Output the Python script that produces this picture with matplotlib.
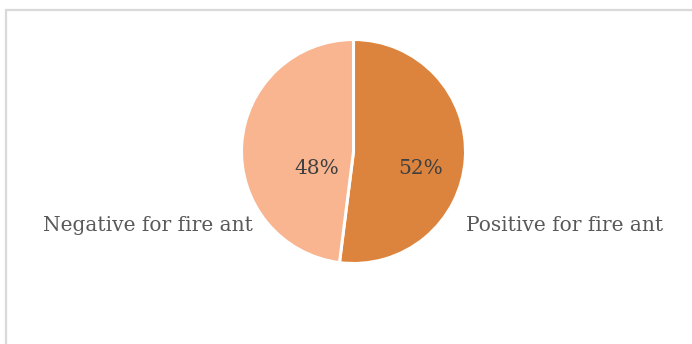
import matplotlib
matplotlib.use("Agg")
import matplotlib.pyplot as plt
from matplotlib.patches import Rectangle

categories = ["Positive for fire ant", "Negative for fire ant"]
values = [52, 48]
pct_labels = ["52%", "48%"]
colors = ["#DC843E", "#F8B58F"]

W, H, DPI = 692, 344, 100
fig = plt.figure(figsize=(W / DPI, H / DPI), dpi=DPI)
fig.patch.set_facecolor("white")

# chart border
fig.patches.append(Rectangle((6 / W, -0.1), 1.2, (H - 10) / H + 0.1,
                             transform=fig.transFigure, fill=False,
                             edgecolor="#D9D9D9", linewidth=1.6))

cx, cy, R = 353.5, 151.5, 112.0
ax = fig.add_axes([0, 0, 1, 1])
wedges, _ = ax.pie(values, colors=colors, startangle=90, counterclock=False,
                   radius=1.0, center=(0, 0),
                   wedgeprops=dict(edgecolor="white", linewidth=2.2))
ax.set_xlim(-cx / R, (W - cx) / R)
ax.set_ylim(-(H - cy) / R, cy / R)
ax.set_aspect("equal")
ax.axis("off")

font = "DejaVu Serif"
fs = 14.5

def px(x, y):
    return (x - cx) / R, (cy - y) / R

ax.text(*px(421, 174), pct_labels[0], ha="center", va="baseline",
        fontsize=fs, color="#404040", family=font)
ax.text(*px(317, 174), pct_labels[1], ha="center", va="baseline",
        fontsize=fs, color="#404040", family=font)
ax.text(*px(466, 231), categories[0], ha="left", va="baseline",
        fontsize=fs, color="#595959", family=font)
ax.text(*px(253, 231), categories[1], ha="right", va="baseline",
        fontsize=fs, color="#595959", family=font)

fig.savefig("out.png", dpi=DPI, facecolor="white")
